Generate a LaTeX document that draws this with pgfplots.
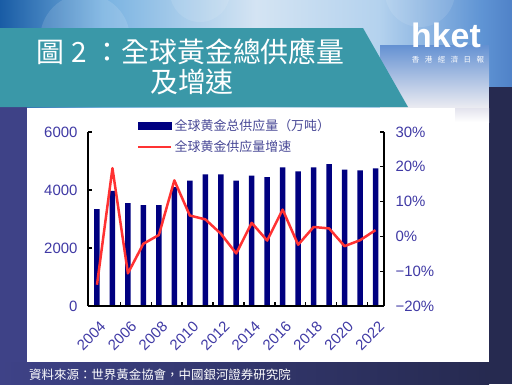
\documentclass[border=0pt]{standalone}
\usepackage{fontspec}
\setmainfont{Liberation Sans}
\newfontfamily\tcfont{Noto Sans CJK TC}
\newfontfamily\scfont{Noto Sans CJK SC}
\usepackage{pgfplots}
\pgfplotsset{compat=1.18}
\definecolor{barblue}{RGB}{0,0,128}
\definecolor{redl}{RGB}{255,50,50}
\definecolor{tickc}{RGB}{64,58,165}
\definecolor{legc}{RGB}{72,72,150}
\definecolor{bannercol}{RGB}{58,152,168}
\definecolor{leftfr}{RGB}{62,66,135}
\definecolor{rightfr}{RGB}{38,42,80}
\definecolor{skyA}{RGB}{25,92,165}
\definecolor{skyB}{RGB}{120,178,225}
\definecolor{skyC}{RGB}{212,228,243}
\definecolor{skyD}{RGB}{180,210,238}
\definecolor{skyE}{RGB}{95,148,212}
\definecolor{skyF}{RGB}{80,130,200}
\definecolor{lavA}{RGB}{100,145,210}
\definecolor{lavB}{RGB}{150,150,196}
\definecolor{lavC}{RGB}{236,236,242}
\pgfdeclarehorizontalshading{sky}{100bp}{color(0bp)=(skyA); color(25bp)=(skyA); color(35bp)=(skyB); color(50bp)=(skyC); color(62bp)=(skyD); color(72bp)=(skyE); color(75bp)=(skyF); color(100bp)=(skyF)}
\begin{document}
\begin{tikzpicture}
\begin{scope}[x=1bp,y=1bp]
\path[use as bounding box] (0,0) rectangle (512,384);
\fill[rightfr] (0,0) rectangle (512,384);
\shade[shading=sky] (0,276) rectangle (512,384);
\fill[white,opacity=0.12] (85,345) circle (45);
\fill[white,opacity=0.10] (200,392) circle (30);
\fill[white,opacity=0.10] (420,392) circle (35);
\shade[top color=lavA, middle color=lavB, bottom color=lavC] (380,276) rectangle (489,339);
\fill[rightfr] (489,0) rectangle (512,297);
\fill[leftfr] (0,0) rectangle (27,277);
\shade[left color=leftfr, right color=rightfr] (0,0) rectangle (489,22);
\fill[bannercol] (0,356) -- (363,356) -- (408,277) -- (0,277) -- cycle;
\fill[white] (27,22) rectangle (489,276);
\shade[top color=lavC!90!lavB, bottom color=white] (455,262) rectangle (489,276);
\node[anchor=west, text=white, inner sep=0pt] at (36,332) {\tcfont\fontsize{28}{30}\selectfont 圖\hspace{0.25em}2\hspace{0.25em}：全球黃金總供應量};
\node[text=white, inner sep=0pt] at (192,302) {\tcfont\fontsize{28}{30}\selectfont 及增速};
\node[anchor=base west, text=white, inner sep=0pt] at (411,337) {\fontsize{34}{36}\selectfont\bfseries hket};
\node[text=white, inner sep=0pt] at (448,324) {\tcfont\fontsize{7.5}{8}\selectfont 香\hspace{5.5bp}港\hspace{5.5bp}經\hspace{5.5bp}濟\hspace{5.5bp}日\hspace{5.5bp}報};
\node[anchor=west, text=white, inner sep=0pt] at (29,9) {\tcfont\fontsize{12.5}{14}\selectfont 資料來源：世界黃金協會，中國銀河證券研究院};
\end{scope}
\begin{axis}[
  at={(88bp,78bp)}, anchor=south west,
  width=296bp, height=174bp, scale only axis,
  xmin=2003.42, xmax=2022.55, ymin=0, ymax=6000,
  axis x line*=bottom, axis y line*=left,
  axis line style={black, line width=1.2bp},
  tick align=inside, major tick length=4bp,
  tick style={black, line width=1.2bp},
  xtick={2005.5,2007.5,...,2021.5}, xticklabels={},
  ytick={0,2000,4000,6000}, yticklabels={0,2000,4000,6000},
  yticklabel style={font=\fontsize{15}{15}\selectfont, text=tickc, xshift=-7bp},
  /pgf/number format/assume math mode=true,
]
\addplot[ybar, bar width=5.5bp, fill=barblue, draw=none] table {
x y
2004 3345
2005 3970
2006 3550
2007 3480
2008 3480
2009 4100
2010 4320
2011 4540
2012 4540
2013 4320
2014 4500
2015 4440
2016 4780
2017 4640
2018 4780
2019 4890
2020 4700
2021 4680
2022 4750
};
\end{axis}
\begin{axis}[
  at={(88bp,78bp)}, anchor=south west,
  width=296bp, height=174bp, scale only axis,
  xmin=2003.42, xmax=2022.55, ymin=-20, ymax=30,
  axis x line*=bottom, axis y line*=right,
  axis line style={black, line width=1.2bp},
  tick align=inside, major tick length=4bp,
  tick style={black, line width=1.2bp},
  xtick={2004,2006,...,2022},
  xticklabels={2004,2006,2008,2010,2012,2014,2016,2018,2020,2022},
  xtick style={draw=none},
  xticklabel style={font=\fontsize{15}{15}\selectfont, text=tickc, rotate=45, anchor=east, xshift=-5bp, yshift=-17bp},
  ytick={-20,-10,0,10,20,30},
  yticklabels={−20\%,−10\%,0\%,10\%,20\%,30\%},
  yticklabel style={font=\fontsize{15}{15}\selectfont, text=tickc, xshift=8bp},
  /pgf/number format/assume math mode=true,
  legend style={at={(0.1655,1.086)}, anchor=north west, draw=none, fill=none,
    font=\scfont\fontsize{13}{15}\selectfont, text=legc, row sep=5bp, inner sep=0pt},
  legend cell align=left,
]
\addlegendimage{legend image code/.code={\fill[barblue] (0bp,-3.5bp) rectangle (33bp,3.5bp);}}
\addlegendentry{全球黄金总供应量（万吨）}
\addplot[redl, line width=2.5bp, line join=round, no markers,
  legend image code/.code={\draw[redl, line width=2.5bp] (0bp,0bp) -- (33bp,0bp);}] table {
x y
2004 -13.9
2005 19.6
2006 -10.6
2007 -2.1
2008 0.4
2009 16.1
2010 6.0
2011 4.9
2012 0.8
2013 -4.9
2014 3.9
2015 -1.2
2016 7.7
2017 -2.4
2018 2.7
2019 2.3
2020 -2.8
2021 -1.1
2022 1.8
};
\addlegendentry{全球黄金供应量增速}
\end{axis}
\end{tikzpicture}
\end{document}
